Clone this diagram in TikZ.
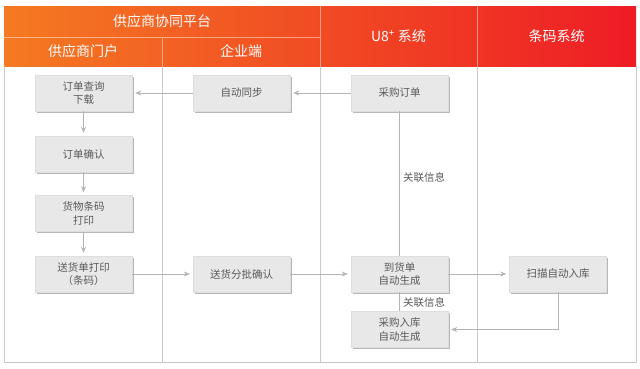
\documentclass[tikz,border=0pt]{standalone}
\usepackage{fontspec}
\setmainfont{Noto Sans CJK SC}
\usetikzlibrary{shadows,arrows.meta}
\definecolor{hdrL}{HTML}{F47A22}
\definecolor{hdrR}{HTML}{EE1C25}
\definecolor{boxfill}{HTML}{E8E8E8}
\definecolor{boxtext}{HTML}{5A5A5A}
\definecolor{linec}{HTML}{B4B4B4}
\definecolor{framec}{HTML}{C8C8C8}
\begin{document}
\begin{tikzpicture}[x=1pt,y=-1pt,
  box/.style={fill=boxfill, draw=framec!60, line width=0.4pt, minimum width=97pt, minimum height=36pt, inner sep=0pt, align=center, font=\fontsize{10.5}{13.5}\selectfont, text=boxtext, drop shadow={shadow xshift=1.5pt, shadow yshift=-1.5pt, fill=black!28, opacity=1}},
  conn/.style={draw=linec, line width=0.6pt},
  arr/.style={conn, -{Stealth[length=6pt,width=5pt,fill=linec!80]}, shorten >=3pt},
  hdr/.style={text=white, font=\fontsize{14}{16}\selectfont, inner sep=0pt},
  lbl/.style={text=boxtext, font=\fontsize{10.5}{13}\selectfont, anchor=west, inner sep=0pt}]
\useasboundingbox (0,0) rectangle (640,368);
% header
\shade[left color=hdrL, right color=hdrR] (4,6) rectangle (636,66);
\draw[white, opacity=0.45, line width=0.8pt] (4,37) -- (320,37) (162,37) -- (162,66) (320,6) -- (320,66) (477,6) -- (477,66);
\node[hdr] (h1) at (162,21.5) {供应商协同平台};
\node[hdr] (h2) at (83,51.5) {供应商门户};
\node[hdr] (h3) at (241,51.5) {企业端};
\node[hdr] (h4) at (398.5,36) {U8\textsuperscript{+} 系统};
\node[hdr] (h5) at (556.5,36) {条码系统};
% body frame
\draw[framec, line width=0.8pt] (4,66) -- (4,362) -- (636,362) -- (636,66)
  (162,66) -- (162,362) (320,66) -- (320,362) (477,66) -- (477,362);
% boxes
\node[box] (ddcx) at (83.5,93) {订单查询\\下载};
\node[box] (ddqr) at (83.5,154) {订单确认};
\node[box] (hwtm) at (83.5,213.5) {货物条码\\打印};
\node[box] (shdy) at (83.5,274) {送货单打印\\（条码）};
\node[box] (zdtb) at (241.5,93) {自动同步};
\node[box] (shfp) at (241.5,274) {送货分批确认};
\node[box] (cgdd) at (399.5,93) {采购订单};
\node[box] (dhd) at (399.5,274) {到货单\\自动生成};
\node[box] (cgrk) at (399.5,329.5) {采购入库\\自动生成};
\node[box] (smrk) at (558,274) {扫描自动入库};
% connectors
\draw[arr] (cgdd.west) -- (zdtb.east);
\draw[arr] (zdtb.west) -- (ddcx.east);
\draw[arr] (ddcx.south) -- (ddqr.north);
\draw[arr] (ddqr.south) -- (hwtm.north);
\draw[arr] (hwtm.south) -- (shdy.north);
\draw[arr] (shdy.east) -- (shfp.west);
\draw[arr] (shfp.east) -- (dhd.west);
\draw[arr] (dhd.east) -- (smrk.west);
\draw[conn] (cgdd.south) -- (dhd.north);
\draw[conn] (dhd.south) -- (cgrk.north);
\draw[arr] (smrk.south) |- (cgrk.east);
\node[lbl] (l1) at (403,177) {关联信息};
\node[lbl] (l2) at (403,302) {关联信息};
\end{tikzpicture}
\end{document}
